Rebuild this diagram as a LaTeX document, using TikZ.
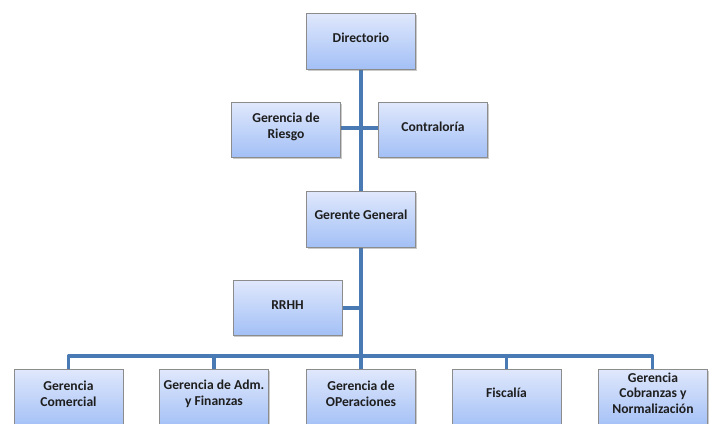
\documentclass[tikz,border=0pt]{standalone}
\usepackage{fontspec}
\setmainfont{Carlito}
\usetikzlibrary{shadows}
\definecolor{topc}{RGB}{224,232,252}
\definecolor{botc}{RGB}{163,192,246}
\definecolor{edgec}{RGB}{140,140,140}
\definecolor{linec}{RGB}{74,122,180}
\definecolor{txtc}{RGB}{30,30,30}
\tikzset{
  box/.style={rectangle, draw=edgec, line width=0.7pt, top color=topc, bottom color=botc,
    minimum width=109pt, minimum height=56pt, inner sep=0pt,
    drop shadow={opacity=0.35, shadow xshift=1.2pt, shadow yshift=-1.8pt, fill=black!60}},
  lbl/.style={font=\bfseries\fontsize{13.6}{15.5}\selectfont, text=txtc, align=center, inner sep=0pt},
  conn/.style={draw=linec, line width=3.6pt}
}
\begin{document}
\begin{tikzpicture}[x=1pt,y=-1pt]
\useasboundingbox (0,0) rectangle (709,423);
% connector end points
\coordinate (bus) at (361,356);
\coordinate (dirS) at (361,69);
\coordinate (riesE) at (340,128);
\coordinate (contW) at (379,128);
\coordinate (ggN) at (361,191);
\coordinate (ggS) at (361,247);
\coordinate (rrhhE) at (342,308);
\coordinate (c1N) at (68.5,369);
\coordinate (c2N) at (214,369);
\coordinate (c3N) at (361,369);
\coordinate (c4N) at (506.5,369);
\coordinate (c5N) at (652.5,369);
% connectors (drawn first, boxes on top)
\draw[conn] (dirS) -- (ggN);
\draw[conn] (riesE) -- (contW);
\draw[conn] (ggS) -- (c3N);
\draw[conn] (rrhhE) -- (rrhhE -| ggS);
\draw[conn, line join=round] (c1N) |- (bus) -| (c5N);
\draw[conn] (c2N) -- (c2N |- bus);
\draw[conn] (c4N) -- (c4N |- bus);
% boxes
\node[box] (dir) at (361,41) {};
\node[box, minimum height=55pt] (ries) at (286,129.5) {};
\node[box, minimum height=55pt] (cont) at (433,129.5) {};
\node[box] (gg) at (361,219) {};
\node[box, minimum height=55pt] (rrhh) at (287.5,307.5) {};
\node[box, minimum height=58pt] (c1) at (68.5,398) {};
\node[box, minimum height=58pt] (c2) at (214,398) {};
\node[box, minimum height=58pt] (c3) at (361,398) {};
\node[box, minimum height=58pt] (c4) at (506.5,398) {};
\node[box, minimum height=58pt] (c5) at (653,398) {};
% labels
\node[lbl] (tdir) at (361,37.5) {Directorio};
\node[lbl] (tries) at (286,127) {Gerencia de\\Riesgo};
\node[lbl] (tcont) at (433,127) {Contraloría};
\node[lbl] (tgg) at (361,215) {Gerente General};
\node[lbl] (trrhh) at (287.5,305) {RRHH};
\node[lbl] (tc1) at (68.5,394) {Gerencia\\Comercial};
\node[lbl] (tc2) at (214,394) {Gerencia de Adm.\\y Finanzas};
\node[lbl] (tc3) at (361,394) {Gerencia de\\OPeraciones};
\node[lbl] (tc4) at (506.5,393) {Fiscalía};
\node[lbl] (tc5) at (653,393) {Gerencia\\Cobranzas y\\Normalización};
\end{tikzpicture}
\end{document}
